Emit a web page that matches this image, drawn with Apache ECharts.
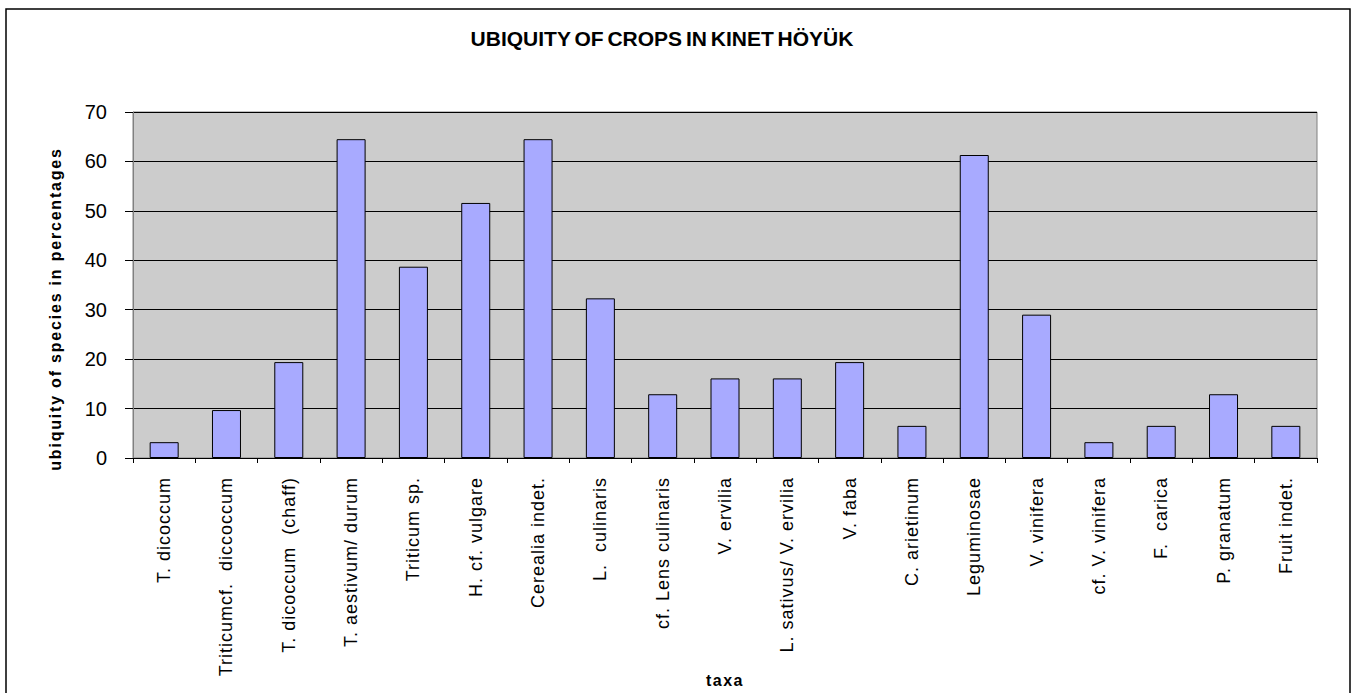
<!DOCTYPE html>
<html><head><meta charset="utf-8">
<script src="https://cdn.jsdelivr.net/npm/echarts@6/dist/echarts.min.js"></script>
<style>html,body{margin:0;padding:0;background:#fff}#c{width:1354px;height:693px}</style>
</head><body><div id="c"></div>
<script>
const titleText = 'UBIQUITY OF CROPS IN KINET HÖYÜK';
const yAxisName = 'ubiquity of species in percentages';
const xAxisName = 'taxa';
const categories = ['T. dicoccum', 'Triticumcf.  diccoccum', 'T. dicoccum  (chaff)', 'T. aestivum/ durum', 'Triticum sp.', 'H. cf. vulgare', 'Cerealia indet.', 'L.  culinaris', 'cf. Lens culinaris', 'V. ervilia', 'L. sativus/ V. ervilia', 'V. faba', 'C. arietinum', 'Leguminosae', 'V. vinifera', 'cf. V. vinifera', 'F.  carica', 'P. granatum', 'Fruit indet.'];
const values = [3.2, 9.7, 19.4, 64.5, 38.7, 51.6, 64.5, 32.3, 12.9, 16.1, 16.1, 19.4, 6.5, 61.3, 29.0, 3.2, 6.5, 12.9, 6.5];
const yMin = 0, yMax = 70, yStep = 10;

const FONT = '"Liberation Sans", Arial, sans-serif';
const chart = echarts.init(document.getElementById('c'), null, {renderer: 'svg'});
chart.setOption({
  animation: false,
  backgroundColor: '#ffffff',
  title: {
    text: titleText, left: 662, top: 28, textAlign: 'center', padding: 0,
    textStyle: {fontFamily: FONT, fontSize: 21, fontWeight: 'bold', color: '#000'}
  },
  grid: {left: 133, right: 37, top: 112, bottom: 235, show: true,
    backgroundColor: '#cccccc', borderColor: '#808080', borderWidth: 1},
  xAxis: {
    type: 'category', data: categories,
    name: xAxisName, nameLocation: 'middle', nameGap: 214,
    nameTextStyle: {fontFamily: FONT, fontSize: 16, fontWeight: 'bold', color: '#000'},
    axisLine: {lineStyle: {color: '#000', width: 1}},
    axisTick: {show: true, length: 5, alignWithLabel: false, lineStyle: {color: '#000'}},
    axisLabel: {rotate: 90, margin: 19, interval: 0, fontSize: 18, color: '#000', fontFamily: FONT},
    splitLine: {show: false}
  },
  yAxis: {
    type: 'value', min: yMin, max: yMax, interval: yStep,
    axisLine: {show: true, lineStyle: {color: '#808080', width: 1}},
    axisTick: {show: true, length: 8, lineStyle: {color: '#000'}},
    axisLabel: {margin: 26, fontSize: 20, color: '#000', fontFamily: FONT},
    splitLine: {show: true, lineStyle: {color: '#000', width: 1}}
  },
  series: [{
    type: 'bar', data: values, barWidth: 29,
    itemStyle: {color: '#a8aaff', borderColor: '#000', borderWidth: 1}
  }],
  graphic: [
    {type: 'rect', silent: true, z: -10, shape: {x: 6, y: 9, width: 1344, height: 720},
      style: {fill: 'none', stroke: '#000', lineWidth: 1.5}},
    {type: 'text', silent: true, x: 55, y: 309, rotation: Math.PI / 2,
      style: {text: yAxisName, fontFamily: FONT, fontSize: 16, fontWeight: 'bold', fill: '#000',
        align: 'center', verticalAlign: 'middle'}}
  ]
});

function spacing() {
  document.querySelectorAll('#c svg text').forEach(t => {
    const s = t.textContent;
    if (categories.includes(s)) t.setAttribute('letter-spacing', '1');
    else if (s === yAxisName) t.setAttribute('letter-spacing', '1.8');
    else if (s === xAxisName) t.setAttribute('letter-spacing', '1.5');
    else if (s === titleText) { t.setAttribute('letter-spacing', '0'); t.setAttribute('word-spacing', '-2'); }
  });
}
chart.on('finished', spacing);
setTimeout(spacing, 0);
</script></body></html>
